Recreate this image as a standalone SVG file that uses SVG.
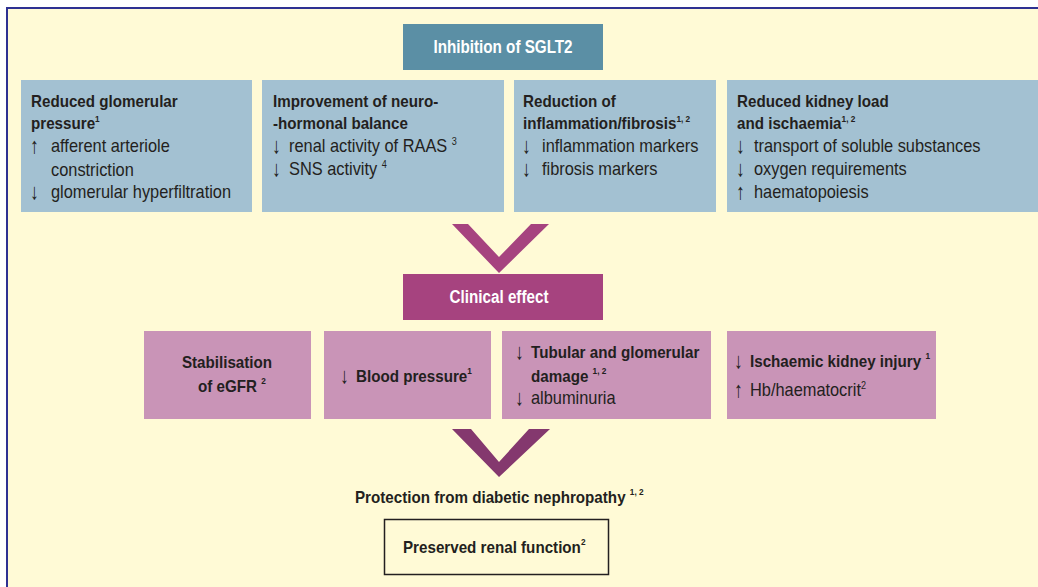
<svg xmlns="http://www.w3.org/2000/svg" width="1038" height="587" viewBox="0 0 1038 587">
<style>
text{font-family:"Liberation Sans",Arial,sans-serif;fill:#231F20;font-size:18px}
.b{font-weight:bold;font-size:16.5px}
.w{fill:#FFFFFF;font-weight:bold;font-size:17.5px}
.ar{font-size:22px}
.sup{font-size:9px;font-weight:bold}
.supn{font-size:10px}
.blue{fill:#A3C1D2}
.pink{fill:#C994B7}
</style>
<rect x="0" y="0" width="1038" height="587" fill="#FFFFFF"/>
<rect x="7" y="8" width="1031" height="579" fill="#FFFAD6"/>
<path d="M7 587 V8 H1038" fill="none" stroke="#2E3192" stroke-width="2"/>

<g id="inhibition">
<rect x="403" y="24" width="200" height="46" fill="#5B8FA5"/>
<text class="w" transform="translate(503,53) scale(0.87,1)" text-anchor="middle">Inhibition of SGLT2</text>
</g>

<g id="glomerular">
<rect class="blue" x="21" y="80" width="231" height="132"/>
<text class="b" transform="translate(31,107) scale(0.92,1)">Reduced glomerular</text>
<text class="b" transform="translate(31,129) scale(0.92,1)">pressure<tspan class="sup" dy="-7">1</tspan></text>
<text class="ar" transform="translate(30,153) scale(0.8,1)">↑</text><text transform="translate(51,152) scale(0.91,1)">afferent arteriole</text>
<text transform="translate(51,176) scale(0.91,1)">constriction</text>
<text class="ar" transform="translate(30,199) scale(0.8,1)">↓</text><text transform="translate(51,198) scale(0.91,1)">glomerular hyperfiltration</text>
</g>

<g id="neurohormonal">
<rect class="blue" x="262" y="80" width="242" height="132"/>
<text class="b" transform="translate(273,107) scale(0.92,1)">Improvement of neuro-</text>
<text class="b" transform="translate(273,129) scale(0.92,1)">-hormonal balance</text>
<text class="ar" transform="translate(272,153) scale(0.8,1)">↓</text><text transform="translate(289,152) scale(0.91,1)">renal activity of RAAS <tspan class="supn" dy="-7">3</tspan></text>
<text class="ar" transform="translate(272,176) scale(0.8,1)">↓</text><text transform="translate(289,175) scale(0.91,1)">SNS activity <tspan class="supn" dy="-7">4</tspan></text>
</g>

<g id="inflammation">
<rect class="blue" x="514" y="80" width="202" height="132"/>
<text class="b" transform="translate(523,107) scale(0.92,1)">Reduction of</text>
<text class="b" transform="translate(523,129) scale(0.92,1)">inflammation/fibrosis<tspan class="sup" dy="-7">1, 2</tspan></text>
<text class="ar" transform="translate(522,153) scale(0.8,1)">↓</text><text transform="translate(542,152) scale(0.91,1)">inflammation markers</text>
<text class="ar" transform="translate(522,176) scale(0.8,1)">↓</text><text transform="translate(542,175) scale(0.91,1)">fibrosis markers</text>
</g>

<g id="kidneyload">
<rect class="blue" x="727" y="80" width="311" height="132"/>
<text class="b" transform="translate(737,107) scale(0.92,1)">Reduced kidney load</text>
<text class="b" transform="translate(737,129) scale(0.92,1)">and ischaemia<tspan class="sup" dy="-7">1, 2</tspan></text>
<text class="ar" transform="translate(736,153) scale(0.8,1)">↓</text><text transform="translate(754,152) scale(0.91,1)">transport of soluble substances</text>
<text class="ar" transform="translate(736,176) scale(0.8,1)">↓</text><text transform="translate(754,175) scale(0.91,1)">oxygen requirements</text>
<text class="ar" transform="translate(736,199) scale(0.8,1)">↑</text><text transform="translate(754,198) scale(0.91,1)">haematopoiesis</text>
</g>

<g id="connectors">
<polygon points="452,224 468,224 499,257 531,224 549,224 499,273" fill="#A6437F"/>
<polygon points="452,429 471,429 499,462 529,429 550,429 499,477" fill="#84386E"/>
</g>

<g id="clinical">
<rect x="403" y="274" width="200" height="46" fill="#A6437F"/>
<text class="w" transform="translate(499,303) scale(0.87,1)" text-anchor="middle">Clinical effect</text>
</g>

<g id="egfr">
<rect class="pink" x="144" y="331" width="167" height="88"/>
<text class="b" transform="translate(227,368) scale(0.92,1)" text-anchor="middle">Stabilisation</text>
<text class="b" transform="translate(198,392) scale(0.92,1)">of eGFR <tspan class="sup" dy="-8">2</tspan></text>
</g>

<g id="bloodpressure">
<rect class="pink" x="324" y="331" width="167" height="88"/>
<text class="ar" transform="translate(340,383) scale(0.8,1)">↓</text>
<text class="b" transform="translate(356,382) scale(0.92,1)">Blood pressure<tspan class="sup" dy="-8">1</tspan></text>
</g>

<g id="tubular">
<rect class="pink" x="502" y="331" width="209" height="88"/>
<text class="ar" transform="translate(515,359) scale(0.8,1)">↓</text>
<text class="b" transform="translate(531,358) scale(0.92,1)">Tubular and glomerular</text>
<text class="b" transform="translate(531,382) scale(0.92,1)">damage <tspan class="sup" dy="-8">1, 2</tspan></text>
<text class="ar" transform="translate(515,405) scale(0.8,1)">↓</text><text transform="translate(531,404) scale(0.91,1)">albuminuria</text>
</g>

<g id="ischaemic">
<rect class="pink" x="727" y="331" width="209" height="88"/>
<text class="ar" transform="translate(734,368) scale(0.8,1)">↓</text>
<text class="b" transform="translate(750,367) scale(0.92,1)">Ischaemic kidney injury <tspan class="sup" dy="-8">1</tspan></text>
<text class="ar" transform="translate(734,397) scale(0.8,1)">↑</text><text transform="translate(750,396) scale(0.91,1)">Hb/haematocrit<tspan class="supn" dy="-7">2</tspan></text>
</g>

<g id="protection">
<text class="b" transform="translate(355,503) scale(0.92,1)">Protection from diabetic nephropathy <tspan class="sup" dy="-8">1, 2</tspan></text>
</g>

<g id="preserved">
<rect x="384.5" y="519.5" width="224" height="55" fill="none" stroke="#231F20" stroke-width="1.5"/>
<text class="b" transform="translate(403,553) scale(0.92,1)">Preserved renal function<tspan class="sup" dy="-8">2</tspan></text>
</g>
</svg>
